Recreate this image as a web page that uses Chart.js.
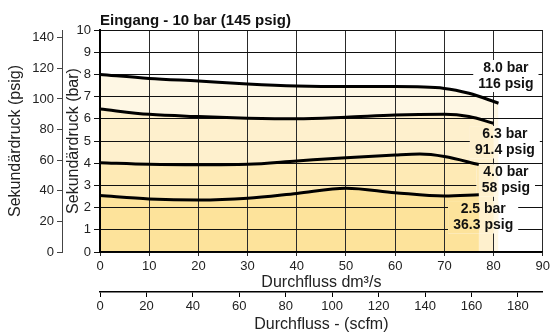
<!DOCTYPE html>
<html>
<head>
<meta charset="utf-8">
<script src="https://cdn.jsdelivr.net/npm/chart.js@4.4.0/dist/chart.umd.min.js"></script>
<style>
  html, body { margin: 0; padding: 0; background: #fff; }
  #wrap { width: 553px; height: 334px; position: relative; }
</style>
</head>
<body>
<div id="wrap"><canvas id="graphCanvas"></canvas></div>
<script>
// curves: flow in dm3/s, secondary pressure in bar
var flow25 = [0, 10, 20, 30, 40, 50, 60, 70, 77];
var bar25  = [2.54, 2.39, 2.34, 2.42, 2.64, 2.87, 2.67, 2.52, 2.58];
var flow40 = [0, 10, 20, 30, 40, 50, 60, 65, 70, 77];
var bar40  = [4.02, 3.95, 3.93, 3.95, 4.1, 4.25, 4.37, 4.41, 4.3, 3.94];
var flow63 = [0, 10, 20, 30, 40, 50, 60, 70, 75, 80];
var bar63  = [6.44, 6.2, 6.1, 6.03, 6.0, 6.07, 6.17, 6.2, 6.1, 5.8];
var flow80 = [0, 10, 20, 30, 40, 50, 60, 70, 75, 81];
var bar80  = [8.0, 7.82, 7.7, 7.57, 7.48, 7.45, 7.45, 7.37, 7.15, 6.7];

var curveBar  = ['2.5 bar', '4.0 bar', '6.3 bar', '8.0 bar'];
var curvePsig = ['36.3 psig', '58 psig', '91.4 psig', '116 psig'];

var barMax = 10, flowMax = 90;
var psigPerBar = 14.5038, scfmPerDm = 2.11888;
var chartTitle = 'Eingang - 10 bar (145 psig)';

function pts(xs, ys) {
  var out = [];
  for (var i = 0; i < xs.length; i++) out.push({x: xs[i], y: ys[i]});
  return out;
}

var fills = ['#fde39b', '#feeab5', '#fef0cd', '#fef7e4'];
var curves = [pts(flow25, bar25), pts(flow40, bar40), pts(flow63, bar63), pts(flow80, bar80)];

// where the curve labels sit (flow, bar)
var labelAt = [[77.9, 1.56], [82.5, 3.22], [82.3, 4.94], [82.5, 7.93]];

function labelBoxes(chart) {
  var ctx = chart.ctx, xs = chart.scales.x, ys = chart.scales.y;
  ctx.save();
  ctx.font = 'bold 14px "Liberation Sans", Arial, sans-serif';
  var boxes = [];
  for (var i = 0; i < curveBar.length; i++) {
    var cx = xs.getPixelForValue(labelAt[i][0]);
    var cy = ys.getPixelForValue(labelAt[i][1]);
    var w = Math.max(ctx.measureText(curveBar[i]).width, ctx.measureText(curvePsig[i]).width) + 10;
    boxes.push({cx: cx, cy: cy, x: cx - w / 2, y: cy - 16, w: w, h: 32});
  }
  ctx.restore();
  return boxes;
}

var curveLabels = {
  id: 'curveLabels',
  beforeDatasetsDraw: function (chart) {
    // break the grid lines behind the labels, keep the area fill
    var ctx = chart.ctx, area = chart.chartArea;
    var y0 = chart.scales.y.getPixelForValue(0);
    var boxes = labelBoxes(chart);
    ctx.save();
    ctx.beginPath();
    boxes.forEach(function (b) { ctx.rect(b.x, b.y, b.w, b.h); });
    ctx.clip();
    ctx.fillStyle = '#fff';
    ctx.fillRect(area.left, area.top, area.right - area.left, area.bottom - area.top);
    for (var i = chart.data.datasets.length - 1; i >= 0; i--) {
      var meta = chart.getDatasetMeta(i);
      var p = meta.data;
      ctx.beginPath();
      meta.dataset.path(ctx);
      ctx.lineTo(p[p.length - 1].x, y0);
      ctx.lineTo(p[0].x, y0);
      ctx.closePath();
      ctx.fillStyle = chart.data.datasets[i].backgroundColor;
      ctx.fill();
    }
    ctx.restore();
  },
  afterDatasetsDraw: function (chart) {
    var ctx = chart.ctx;
    var boxes = labelBoxes(chart);
    ctx.save();
    ctx.fillStyle = '#111';
    ctx.font = 'bold 14px "Liberation Sans", Arial, sans-serif';
    ctx.textAlign = 'center';
    ctx.textBaseline = 'middle';
    for (var i = 0; i < boxes.length; i++) {
      ctx.fillText(curveBar[i], boxes[i].cx, boxes[i].cy - 8);
      ctx.fillText(curvePsig[i], boxes[i].cx, boxes[i].cy + 8);
    }
    ctx.textAlign = 'left';
    ctx.textBaseline = 'alphabetic';
    ctx.font = 'bold 15px "Liberation Sans", Arial, sans-serif';
    ctx.fillText(chartTitle, chart.chartArea.left, 25);
    ctx.restore();
  }
};

Chart.defaults.font.family = '"Liberation Sans", Arial, sans-serif';
Chart.defaults.color = '#222';

var datasets = [];
for (var i = 0; i < curves.length; i++) {
  datasets.push({
    label: curveBar[i],
    data: curves[i],
    borderColor: '#000',
    borderWidth: 3,
    backgroundColor: fills[i],
    fill: 'origin',
    pointRadius: 0,
    cubicInterpolationMode: 'monotone'
  });
}

var tickFont = {size: 13};
var titleFont = {size: 16};

var graphTarget = document.getElementById('graphCanvas');
var lineGraph = new Chart(graphTarget, {
  type: 'line',
  data: {datasets: datasets},
  plugins: [curveLabels],
  options: {
    responsive: true,
    maintainAspectRatio: false,
    animation: false,
    layout: {padding: {top: 30, right: 7, left: 0, bottom: 0}},
    plugins: {
      legend: {display: false},
      tooltip: {enabled: false},
      filler: {drawTime: 'beforeDraw'}
    },
    scales: {
      x: {
        type: 'linear', position: 'bottom', weight: 0,
        min: 0, max: flowMax,
        ticks: {stepSize: 10, font: tickFont, padding: 3, maxRotation: 0},
        grid: {color: '#2a2a2a', lineWidth: 1, tickLength: 4},
        border: {color: '#000', width: 1.5},
        title: {display: true, text: 'Durchfluss dm³/s', font: titleFont, padding: {top: 0, bottom: 0}},
        afterFit: function (s) { s.height = 40; }
      },
      xs: {
        type: 'linear', position: 'bottom', weight: 1,
        min: 0, max: flowMax * scfmPerDm,
        ticks: {stepSize: 20, font: tickFont, padding: 2, includeBounds: false, maxRotation: 0},
        afterBuildTicks: function (s) { s.ticks = s.ticks.filter(function (t) { return t.value % 20 === 0; }); },
        grid: {drawOnChartArea: false, color: '#000', tickLength: 5},
        border: {color: '#000', width: 1.5},
        title: {display: true, text: 'Durchfluss - (scfm)', font: titleFont, padding: {top: 0, bottom: 0}},
        afterFit: function (s) { s.height = 42; }
      },
      y: {
        type: 'linear', position: 'left', weight: 0,
        min: 0, max: barMax,
        ticks: {stepSize: 1, font: tickFont, padding: 3},
        grid: {color: '#111', lineWidth: 1, tickLength: 6},
        border: {color: '#000', width: 2},
        title: {display: true, text: 'Sekundärdruck (bar)', font: titleFont, padding: {top: 2, bottom: 0}},
        afterFit: function (s) { s.width = 38; }
      },
      yp: {
        type: 'linear', position: 'left', weight: 1,
        min: 0, max: barMax * psigPerBar,
        ticks: {stepSize: 20, font: tickFont, padding: 3, includeBounds: false},
        afterBuildTicks: function (s) { s.ticks = s.ticks.filter(function (t) { return t.value % 20 === 0; }); },
        grid: {drawOnChartArea: false, color: '#444', tickLength: 5},
        border: {color: '#444', width: 1},
        title: {display: true, text: 'Sekundärdruck (psig)', font: titleFont, padding: {top: 6, bottom: 0}},
        afterFit: function (s) { s.width = 62; }
      }
    }
  }
});
</script>
</body>
</html>
